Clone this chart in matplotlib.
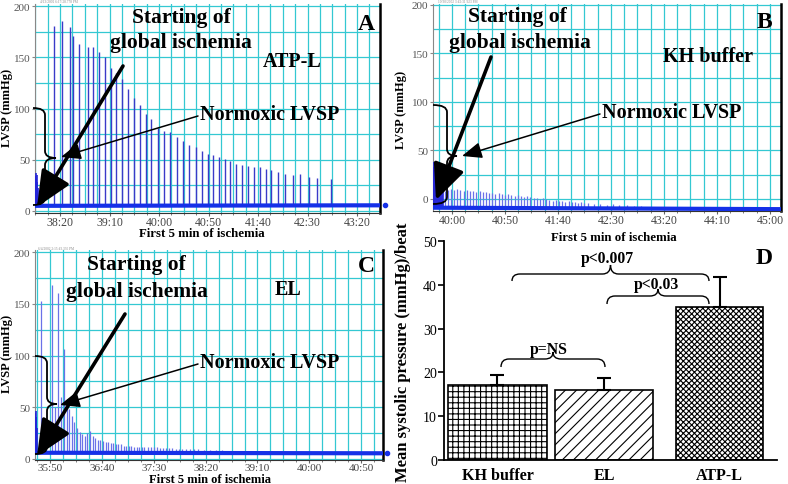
import numpy as np
import matplotlib
matplotlib.use("Agg")
import matplotlib.pyplot as plt
from matplotlib.patches import FancyArrowPatch, PathPatch
from matplotlib.path import Path
from matplotlib.ticker import MultipleLocator, FixedLocator, FuncFormatter

plt.rcParams['font.family'] = ['Liberation Serif', 'DejaVu Serif']
plt.rcParams['hatch.linewidth'] = 0.8

W, H = 788, 485

# ── Panel A : ATP-L ────────────────────────────────────────────────────────────
A_tick_labels = ['38:20', '39:10', '40:00', '40:50', '41:40', '42:30', '43:20']
A_pre_t = [2275.0, 2275.5, 2276.0, 2276.5, 2277.0, 2277.5]
A_pre_peak = [34, 37, 31, 35, 28, 22]
A_beat_t = [2294, 2302, 2310, 2313, 2319, 2328, 2333, 2339, 2345, 2351,
            2357, 2363, 2369, 2375, 2381, 2387, 2392, 2399, 2405, 2411,
            2418, 2424, 2430, 2437, 2443, 2449, 2455, 2461, 2467, 2472,
            2478, 2484, 2490, 2496, 2502, 2508, 2513, 2520, 2527, 2535,
            2542, 2551, 2560, 2574]
A_beat_peak = [181, 185, 180, 171, 163, 160, 160, 155, 150, 140,
               135, 129, 119, 110, 103, 95, 90, 81, 78, 77,
               72, 68, 64, 62, 59, 56, 55, 53, 51, 49,
               46, 45, 44, 43, 43, 41, 40, 38, 36, 35,
               36, 33, 32, 31]
A_base_t = [2274.7, 2623.2]
A_base_v = [5.0, 5.5]

# ── Panel B : KH buffer ────────────────────────────────────────────────────────
B_tick_labels = ['40:00', '40:50', '41:40', '42:30', '43:20', '44:10', '45:00']
B_pre_t = [2382.5, 2383.2, 2384.0, 2384.8, 2385.6, 2386.5, 2387.5, 2388.5,
           2389.5, 2390.5, 2391.5]
B_pre_peak = [33, 38, 30, 35, 26, 24, 20, 17, 15, 12, 10]
B_beat_t = [2393, 2396, 2399, 2402, 2405, 2408, 2411, 2414, 2417, 2420,
            2423, 2426, 2429, 2432, 2435, 2438, 2441, 2444, 2447, 2450,
            2453, 2456, 2459, 2462, 2465, 2468, 2471, 2474, 2477, 2480,
            2483, 2486, 2489, 2492, 2495, 2498, 2501, 2504, 2507, 2510,
            2513, 2516, 2519, 2522, 2525, 2528, 2534, 2540, 2546, 2552,
            2558, 2565, 2572, 2578]
B_beat_peak = [8, 9, 10, 9, 10, 9, 8, 9, 8, 8,
               7, 8, 7, 7, 6, 6, 5, 6, 5, 4,
               5, 4, 3, 4, 3, 2, 3, 2, 1, 1,
               0, 1, 0, -1, -2, -1, -2, -2, -3, -2,
               -3, -3, -4, -3, -4, -4, -5, -5, -6, -5,
               -6, -6, -7, -7]
B_base_t = [2382.1, 2710.4]
B_base_v = [-9.0, -10.5]

# ── Panel C : EL ───────────────────────────────────────────────────────────────
C_tick_labels = ['35:50', '36:40', '37:30', '38:20', '39:10', '40:00', '40:50']
C_pre_t = [2135.6, 2136.0, 2136.4, 2136.8, 2137.2]
C_pre_peak = [44, 46, 41, 38, 30]
C_beat_t = [2141, 2144, 2146.5, 2151.5, 2155, 2158, 2161, 2163.5, 2166, 2168.5,
            2171, 2173.5, 2176, 2178.5, 2181, 2183.5, 2186, 2188.5, 2191, 2193.5,
            2196, 2198.5, 2201, 2203.5, 2206, 2208.5, 2211, 2213.5, 2216, 2218.5,
            2221, 2223.5, 2226, 2228.5, 2231, 2233.5, 2236, 2238.5, 2241, 2244,
            2247, 2250, 2253, 2256, 2259, 2262, 2265, 2268, 2271, 2274,
            2277, 2281, 2285, 2289, 2293, 2298, 2304, 2310, 2316, 2322,
            2330, 2340, 2352]
C_beat_peak = [153, 30, 36, 168, 50, 160, 60, 106, 58, 48,
               42, 36, 30, 26, 24, 22, 25, 27, 22, 20,
               18, 18, 17, 16, 16, 15, 15, 14, 14, 14,
               13, 13, 13, 13, 12, 12, 12, 12, 12, 12,
               12, 12, 12, 11, 11, 11, 11, 11, 10, 10,
               10, 10, 10, 10, 10, 9, 9, 9, 9, 8,
               8, 8, 7]
C_base_t = [2135.5, 2471.0]
C_base_v = [6.0, 5.5]

# ── Panel D : bar chart ────────────────────────────────────────────────────────
D_groups = ['KH buffer', 'EL', 'ATP-L']
D_means = [17.2, 16.0, 35.0]
D_sem = [2.2, 2.7, 6.7]

GRID = '#34c8d2'
SPIKE_DARK = '#3a3ac8'
SPIKE_LIGHT = '#6a72e8'
BASE = '#1530e8'


def mmss(s):
    m, sec = s.split(':')
    return int(m) * 60 + int(sec)


def px_rect(l, t, r, b):
    return [l / W, 1 - b / H, (r - l) / W, (b - t) / H]


def fr(x, y):
    return (x / W, 1 - y / H)


fig = plt.figure(figsize=(W / 100, H / 100), dpi=100)


def trace_panel(rect, xlim, ylim, tick_labels, base_t, base_v,
                pre_t, pre_p, beat_t, beat_p, spike_col, spike_lw, xlab_size=8.5):
    ax = fig.add_axes(px_rect(*rect))
    ax.set_xlim(xlim)
    ax.set_ylim(ylim)
    ax.xaxis.set_major_locator(FixedLocator([mmss(s) for s in tick_labels]))
    ax.xaxis.set_major_formatter(FuncFormatter(
        lambda v, p: f"{int(round(v)) // 60}:{int(round(v)) % 60:02d}"))
    ax.xaxis.set_minor_locator(MultipleLocator(12.5))
    ax.yaxis.set_major_locator(MultipleLocator(50))
    ax.yaxis.set_minor_locator(MultipleLocator(25))
    ax.grid(which='both', color=GRID, lw=0.9)
    ax.set_axisbelow(True)
    ax.tick_params(axis='x', which='major', labelsize=xlab_size, labelcolor='#444',
                   length=2, pad=0.5, color='#666')
    ax.tick_params(axis='x', which='minor', length=1.5, color='#666')
    ax.tick_params(axis='y', which='major', labelsize=8, labelcolor='#555',
                   length=2, pad=1.5, color='#888')
    ax.tick_params(axis='y', which='minor', length=0)
    ax.spines['top'].set_visible(False)
    ax.spines['left'].set_color('#888')
    ax.spines['left'].set_linewidth(0.8)
    ax.spines['bottom'].set_color('#333')
    ax.spines['right'].set_color('k')
    ax.spines['right'].set_linewidth(1.8)

    bt = np.asarray(beat_t, float)
    ax.vlines(bt, np.interp(bt, base_t, base_v), beat_p,
              color=spike_col, lw=spike_lw, zorder=3)
    pt = np.asarray(pre_t, float)
    ax.vlines(pt, np.interp(pt, base_t, base_v), pre_p,
              color='#2424d8', lw=1.2, zorder=3)
    ax.plot(base_t, base_v, color=BASE, lw=3, solid_capstyle='butt', zorder=4)
    return ax


# A
axA = trace_panel((35, 5, 380, 214), (2274.7, 2623.2), (-2, 202), A_tick_labels,
                  A_base_t, A_base_v, A_pre_t, A_pre_peak, A_beat_t, A_beat_peak,
                  SPIKE_DARK, 1.0)
axA.plot([2628], [A_base_v[-1]], 'o', color=BASE, ms=3, clip_on=False)

# B
axB = trace_panel((433, 5, 781, 212), (2382.1, 2710.4), (-12.4, 201), B_tick_labels,
                  B_base_t, B_base_v, B_pre_t, B_pre_peak, B_beat_t, B_beat_peak,
                  SPIKE_LIGHT, 0.9)

# C
axC = trace_panel((35, 251, 383, 461), (2135.5, 2471), (-1.0, 202), C_tick_labels,
                  C_base_t, C_base_v, C_pre_t, C_pre_peak, C_beat_t, C_beat_peak,
                  SPIKE_LIGHT, 0.9, xlab_size=8)
axC.plot([2475], [C_base_v[-1]], 'o', color=BASE, ms=3, clip_on=False)

# D
axD = fig.add_axes(px_rect(444, 242, 777, 461))
D_pos = [0.0, 0.97, 2.02]
D_width = [0.9, 0.89, 0.79]
D_hatch = ['+++', '///', 'xxxxxx']
for x, m, w, h in zip(D_pos, D_means, D_width, D_hatch):
    axD.bar(x, m, width=w, facecolor='white', edgecolor='black', lw=1.2,
            hatch=h, zorder=2)
axD.errorbar(D_pos, D_means, yerr=[np.zeros(len(D_sem)), D_sem], fmt='none',
             ecolor='black', elinewidth=1.5, capsize=5, capthick=1.5, zorder=3)
axD.set_xlim(-0.486, 2.54)
axD.set_ylim(0, 50)
axD.yaxis.set_major_locator(MultipleLocator(10))
axD.set_xticks(D_pos)
axD.set_xticklabels(D_groups, fontsize=11.5, fontweight='bold')
axD.tick_params(axis='x', length=0, pad=5)
axD.tick_params(axis='y', labelsize=10, length=4, width=1.2, pad=1)
for s in ('top', 'right'):
    axD.spines[s].set_visible(False)
for s in ('left', 'bottom'):
    axD.spines[s].set_linewidth(1.3)

# ── Texts ──────────────────────────────────────────────────────────────────────
def ftext(x, y, s, size, ha='center', va='center', **kw):
    fig.text(x / W, 1 - y / H, s, fontsize=size, ha=ha, va=va,
             fontweight='bold', **kw)


for (x1, y1, x2, y2) in [(181, 18, 181, 43), (517, 17, 520, 43), (136, 265, 137, 292)]:
    ftext(x1, y1, 'Starting of', 15.5)
    ftext(x2, y2, 'global ischemia', 15.5)

ftext(200, 115, 'Normoxic LVSP', 14.5, ha='left')
ftext(602, 113, 'Normoxic LVSP', 14.5, ha='left')
ftext(200, 363, 'Normoxic LVSP', 14.5, ha='left')

ftext(292, 62, 'ATP-L', 14.5)
ftext(708, 57, 'KH buffer', 14.5)
ftext(288, 290, 'EL', 14.5)
ftext(366, 25, 'A', 17)
ftext(764, 22, 'B', 17)
ftext(366, 267, 'C', 17)
ftext(764, 259, 'D', 17)

ftext(202, 234, 'First 5 min of ischemia', 9.3)
ftext(614, 238, 'First 5 min of ischemia', 9.3)
ftext(210, 480, 'First 5 min of ischemia', 9)
ftext(7, 108, 'LVSP (mmHg)', 9, rotation=90)
ftext(401, 110, 'LVSP (mmHg)', 9, rotation=90)
ftext(7, 354, 'LVSP (mmHg)', 9, rotation=90)
ftext(403, 352, 'Mean systolic pressure (mmHg)/beat', 12, rotation=90)

ftext(549, 350, 'p=NS', 11.3)
ftext(607, 259, 'p<0.007', 11.3)
ftext(656, 285, 'p<0.03', 11.3)

for (x, y, s) in [(40, 2, '4/13/2002 6:17:28.778 PM'),
                  (438, 2, '10/30/2002 3:42:31.923 PM'),
                  (38, 249, '6/4/2002 2:15:43.335 PM')]:
    fig.text(x / W, 1 - y / H, s, fontsize=2.5, color='#888', va='center')

# ── Arrows ─────────────────────────────────────────────────────────────────────
def arrow(p0, p1, lw, hl, hw, ms):
    fig.add_artist(FancyArrowPatch(fr(*p0), fr(*p1), transform=fig.transFigure,
                                   arrowstyle=f'-|>,head_length={hl},head_width={hw}',
                                   mutation_scale=ms, lw=lw, color='k',
                                   shrinkA=0, shrinkB=0, zorder=10))


arrow((123, 67), (37, 208), 2.6, 1.0, 0.45, 22)
arrow((491, 58), (436, 201), 2.6, 1.0, 0.45, 22)
arrow((125, 315), (37, 457), 2.6, 1.0, 0.45, 22)
arrow((198, 117), (61, 158), 1.1, 1.1, 0.45, 11)
arrow((600, 115), (462, 157), 1.1, 1.1, 0.45, 11)
arrow((198, 365), (60, 406), 1.1, 1.1, 0.45, 11)

# ── Braces ─────────────────────────────────────────────────────────────────────
M, L, C3 = Path.MOVETO, Path.LINETO, Path.CURVE3
BRACE_CODES = [M, C3, C3, L, C3, C3, C3, C3, L, C3, C3]


def brace_v(xl, xs, xt, yt, ym, yb, r=7):
    verts = [(xl, yt), (xs, yt), (xs, yt + r), (xs, ym - r), (xs, ym), (xt, ym),
             (xs, ym), (xs, ym + r), (xs, yb - r), (xs, yb), (xl, yb)]
    fig.add_artist(PathPatch(Path([fr(*v) for v in verts], BRACE_CODES),
                             transform=fig.transFigure, fill=False, lw=1.3,
                             edgecolor='k', zorder=9))


def brace_h(xl, xr, yb, ym, yt, r=8):
    xc = (xl + xr) / 2
    verts = [(xl, yb), (xl, ym), (xl + r, ym), (xc - r, ym), (xc, ym), (xc, yt),
             (xc, ym), (xc + r, ym), (xr - r, ym), (xr, ym), (xr, yb)]
    fig.add_artist(PathPatch(Path([fr(*v) for v in verts], BRACE_CODES),
                             transform=fig.transFigure, fill=False, lw=1.0,
                             edgecolor='k', zorder=9))


brace_v(33, 45, 56, 109, 159, 206)
brace_v(433, 447, 457, 106, 157, 205)
brace_v(35, 47, 57, 357, 405, 455)

brace_h(501, 605, 368, 360, 353)
brace_h(512, 709, 282, 275, 266)
brace_h(607, 709, 305, 297, 290)

fig.savefig('out.png', dpi=100)
